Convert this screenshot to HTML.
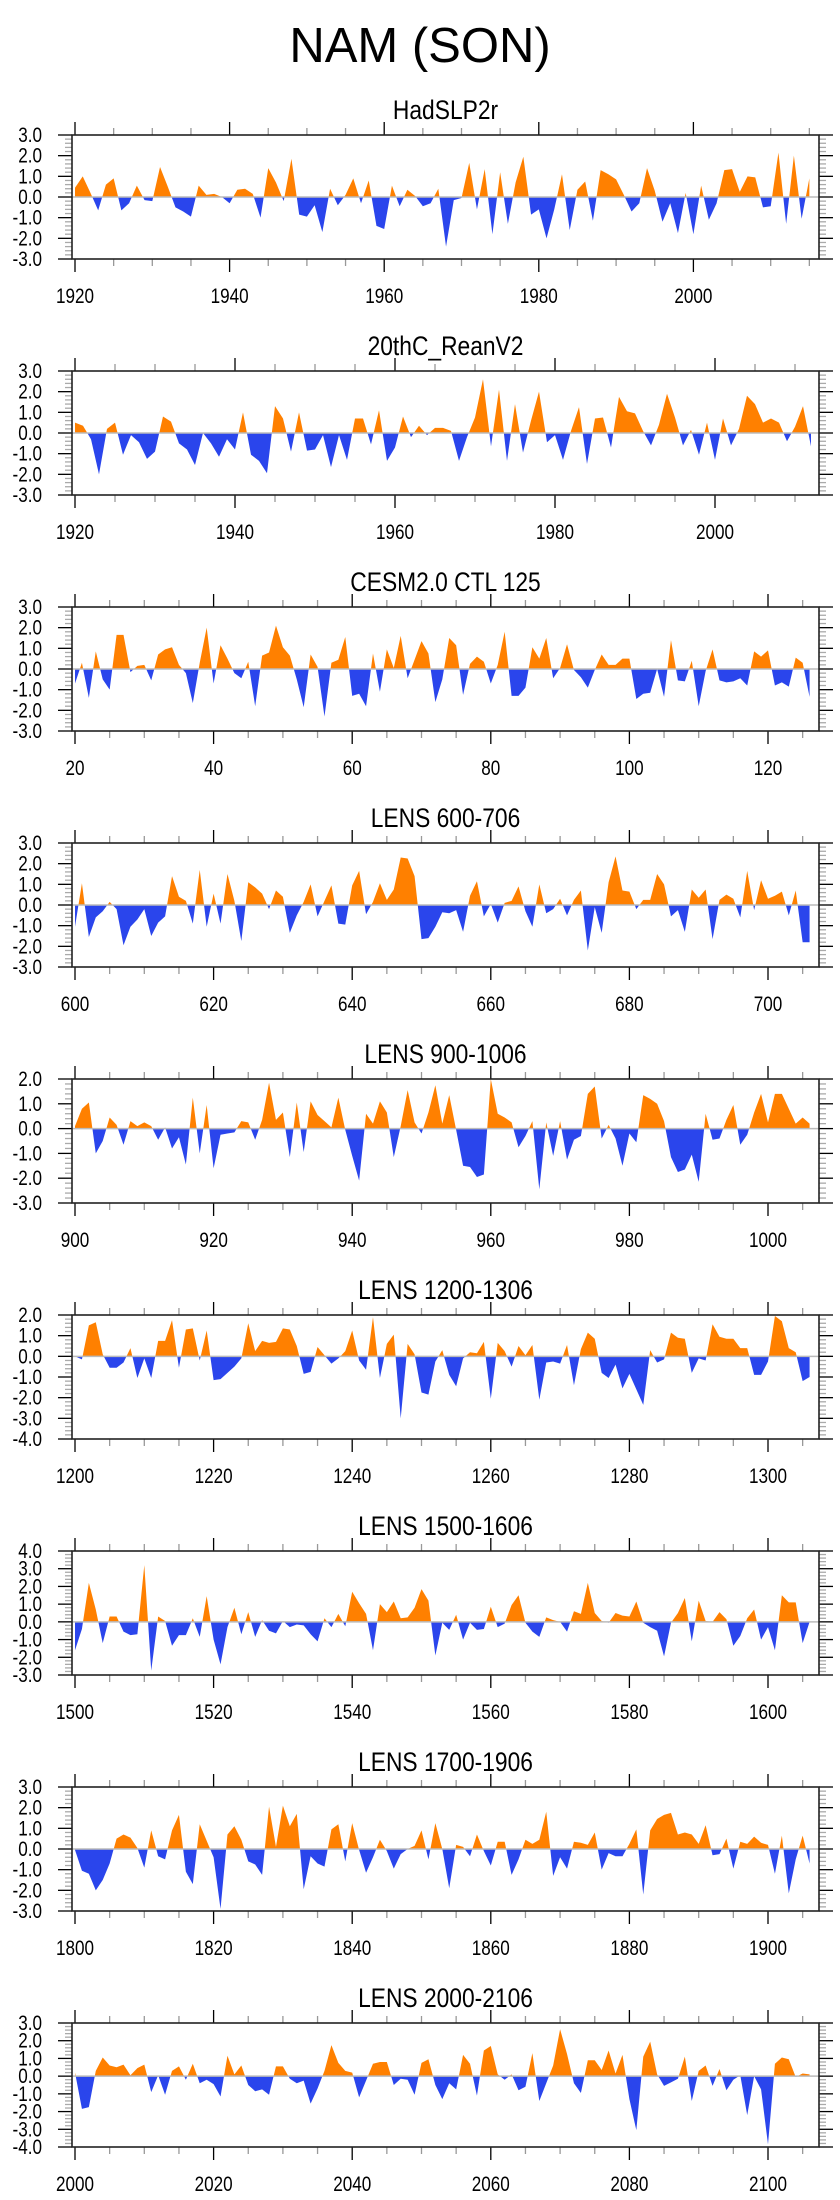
<!DOCTYPE html>
<html><head><meta charset="utf-8"><style>
html,body{margin:0;padding:0;background:#fff;}
svg{display:block;font-family:"Liberation Sans",Arial,sans-serif;}
</style></head><body>
<svg id="fig" width="840" height="2200" viewBox="0 0 840 2200">
<text x="420" y="62" text-anchor="middle" font-size="49">NAM (SON)</text>
</svg>
<script>
const titles = ["HadSLP2r","20thC_ReanV2","CESM2.0 CTL 125","LENS 600-706","LENS 900-1006","LENS 1200-1306","LENS 1500-1606","LENS 1700-1906","LENS 2000-2106"];
const startYears = [1920,1920,20,600,900,1200,1500,1800,2000];
const xTickLabels = [[1920,1940,1960,1980,2000],[1920,1940,1960,1980,2000],[20,40,60,80,100,120],[600,620,640,660,680,700],[900,920,940,960,980,1000],[1200,1220,1240,1260,1280,1300],[1500,1520,1540,1560,1580,1600],[1800,1820,1840,1860,1880,1900],[2000,2020,2040,2060,2080,2100]];
const yMins = [-3,-3,-3,-3,-3,-4,-3,-3,-4];
const yMaxs = [3,3,3,3,2,2,4,3,3];
const s1 = [0.45,1.0,0.2,-0.65,0.6,0.9,-0.65,-0.3,0.55,-0.15,-0.2,1.45,0.5,-0.5,-0.7,-0.95,0.55,0.1,0.15,0.0,-0.3,0.35,0.4,0.15,-1.0,1.4,0.7,-0.2,1.85,-0.85,-0.95,-0.4,-1.7,0.4,-0.4,0.1,0.9,-0.3,0.8,-1.4,-1.55,0.55,-0.45,0.35,0.05,-0.45,-0.3,0.4,-2.4,-0.15,-0.05,1.65,-0.6,1.35,-1.8,1.2,-1.3,0.7,1.95,-0.85,-0.6,-2.0,-0.6,1.1,-1.6,0.35,0.75,-1.15,1.3,1.1,0.85,0.1,-0.7,-0.3,1.4,0.3,-1.2,-0.3,-1.75,0.2,-1.8,0.55,-1.1,-0.3,1.3,1.35,0.25,1.0,0.95,-0.5,-0.45,2.15,-1.3,2.0,-1.05,0.9];
const s2 = [0.5,0.35,-0.3,-2.0,0.2,0.5,-1.05,-0.1,-0.45,-1.25,-0.9,0.8,0.55,-0.5,-0.8,-1.55,0,-0.5,-1.15,-0.3,-0.8,1.0,-1.05,-1.35,-1.95,1.3,0.7,-0.9,1.0,-0.85,-0.8,-0.1,-1.65,-0.1,-1.3,0.7,0.7,-0.55,1.1,-1.35,-0.7,0.8,-0.2,0.35,-0.1,0.25,0.25,0.1,-1.35,-0.2,0.75,2.6,-0.65,2.1,-1.35,1.4,-0.95,0.6,2.0,-0.45,-0.1,-1.3,0.1,1.25,-1.5,0.7,0.75,-0.7,1.75,1.05,0.95,0.1,-0.6,0.4,1.9,0.75,-0.6,0.15,-1.05,0.5,-1.3,0.7,-0.6,0.2,1.8,1.4,0.5,0.7,0.5,-0.4,0.3,1.3,-0.65];
const s3 = [-0.7,0.3,-1.4,0.85,-0.5,-1.0,1.65,1.65,-0.15,0.15,0.2,-0.55,0.7,0.95,1.05,0.2,-0.2,-1.65,0.3,2.0,-0.7,1.15,0.5,-0.2,-0.45,0.35,-1.8,0.65,0.8,2.1,1.05,0.65,-0.5,-1.85,0.7,0.1,-2.3,0.3,0.45,1.55,-1.3,-1.2,-1.8,0.75,-1.1,0.95,0.05,1.6,-0.45,0.45,1.35,0.75,-1.6,-0.5,1.5,1.15,-1.25,0.25,0.6,0.35,-0.7,0.2,1.8,-1.3,-1.3,-0.9,1.05,0.5,1.5,-0.45,0.05,1.2,-0.05,-0.4,-0.9,-0.05,0.7,0.2,0.2,0.5,0.5,-1.45,-1.2,-1.15,0,-1.35,1.4,-0.55,-0.6,0.4,-1.8,-0.1,0.95,-0.55,-0.65,-0.6,-0.45,-0.8,0.85,0.6,0.9,-0.8,-0.65,-0.85,0.55,0.3,-1.35];
const s4 = [-1.05,1.05,-1.55,-0.6,-0.3,0.15,-0.2,-1.95,-1.05,-0.7,-0.2,-1.5,-0.85,-0.55,1.4,0.4,0.2,-0.9,1.7,-1.05,0.55,-0.9,1.5,0.2,-1.75,1.1,0.85,0.55,-0.2,0.7,0.4,-1.35,-0.5,0.15,1.0,-0.55,0.2,0.95,-0.9,-0.95,0.95,1.65,-0.45,0.15,1.05,0.25,0.75,2.3,2.25,1.4,-1.65,-1.6,-1.05,-0.35,-0.4,-0.25,-1.3,0.45,1.15,-0.55,0.05,-0.85,0.1,0.2,0.9,-0.3,-1.05,1.0,-0.4,-0.2,0.3,-0.5,0.25,0.7,-2.2,-0.1,-1.35,1.1,2.35,0.7,0.65,-0.2,0.25,0.25,1.5,1.0,-0.55,-0.25,-1.3,0.75,0.35,0.75,-1.65,0.25,0.5,0.3,-0.6,1.65,-0.25,1.2,0.3,0.45,0.65,-0.5,0.7,-1.8,-1.8];
const s5 = [0.1,0.8,1.05,-1.0,-0.5,0.45,0.15,-0.65,0.3,0.1,0.25,0.1,-0.45,0.05,-0.8,-0.35,-1.45,1.25,-1.0,0.95,-1.6,-0.25,-0.2,-0.15,0.3,0.25,-0.45,0.35,1.85,0.35,0.65,-1.15,1.05,-0.95,1.1,0.55,0.3,0.05,1.25,-0.05,-1.1,-2.1,0.6,0.2,1.1,0.65,-1.15,0.1,1.55,0.25,-0.2,0.65,1.75,0.2,1.35,-0.05,-1.5,-1.55,-1.95,-1.85,2.0,0.6,0.45,0.25,-0.75,-0.3,0.3,-2.45,0.25,-1.1,0.3,-1.25,-0.45,-0.3,1.4,1.7,-0.4,0.15,-0.4,-1.5,-0.2,-0.55,1.35,1.2,1.0,0.3,-1.15,-1.75,-1.65,-1.05,-2.15,0.6,-0.45,-0.4,0.35,0.95,-0.65,-0.25,0.65,1.4,0.25,1.4,1.4,0.8,0.2,0.45,0.2];
const s6 = [0,-0.15,1.5,1.65,0.1,-0.55,-0.55,-0.3,0.4,-1.05,-0.1,-1.05,0.75,0.75,1.75,-0.55,1.3,1.35,-0.2,1.25,-1.15,-1.1,-0.8,-0.5,-0.1,1.6,0.25,0.75,0.65,0.7,1.35,1.3,0.5,-0.85,-0.75,0.45,0.05,-0.35,-0.1,0.25,1.25,-0.2,-0.65,1.9,-1.05,0.6,1.05,-3.0,0.6,0.1,-1.75,-1.85,-0.25,0.3,-0.9,-1.45,-0.1,0.2,0.15,0.7,-2.05,0.65,0.25,-0.5,0.5,0.05,0.55,-2.1,-0.3,-0.25,-0.35,0.55,-1.4,0.35,1.15,0.85,-0.8,-1.05,-0.4,-1.55,-0.85,-1.6,-2.35,0.3,-0.3,-0.15,1.15,0.9,0.85,-0.8,-0.1,-0.2,1.55,0.95,0.85,0.85,0.4,0.4,-0.9,-0.9,-0.25,1.95,1.7,0.4,0.2,-1.2,-1.0];
const s7 = [-1.6,-0.4,2.2,0.7,-1.2,0.3,0.3,-0.55,-0.75,-0.7,3.2,-2.75,0.3,0.05,-1.35,-0.75,-0.75,0.2,-0.85,1.45,-1.0,-2.4,-0.3,0.8,-0.7,0.55,-0.85,0.1,-0.5,-0.65,0.05,-0.3,-0.15,-0.2,-0.7,-1.1,0.2,-0.3,0.45,-0.25,1.7,1.05,0.45,-1.6,1.0,0.55,1.15,0.2,0.25,0.8,1.85,1.2,-1.9,-0.05,-0.45,0.4,-1.0,-0.05,-0.45,-0.4,0.85,-0.3,-0.1,0.95,1.5,-0.05,-0.55,-0.85,0.25,0.1,0.0,-0.55,0.6,0.45,2.2,0.5,0.05,-0.05,0.5,0.35,0.3,1.15,-0.05,-0.3,-0.5,-1.95,-0.05,0.5,1.35,-1.1,1.2,0.05,0.0,0.55,0.15,-1.35,-0.8,0.2,0.7,-1.0,-0.3,-1.6,1.5,1.1,1.1,-1.2,0.0];
const s8 = [-0.05,-1.05,-1.2,-2.0,-1.5,-0.7,0.5,0.7,0.55,0.05,-0.9,0.9,-0.35,-0.5,0.9,1.65,-1.1,-1.7,1.2,0.4,-0.4,-2.9,0.7,1.1,0.45,-0.6,-0.75,-1.25,2.05,0.1,2.1,1.1,1.7,-1.95,-0.35,-0.7,-0.85,0.95,1.2,-0.6,1.25,-0.05,-1.15,-0.4,0.45,-0.1,-0.95,-0.25,0.0,0.15,0.9,-0.5,1.25,0.0,-1.9,0.2,0.1,-0.35,0.7,-0.1,-0.8,0.35,0.35,-1.25,-0.5,0.45,0.25,0.45,1.8,-1.3,-0.4,-0.95,0.35,0.3,0.2,0.8,-1.0,-0.2,-0.35,-0.35,0.25,0.95,-2.2,0.9,1.45,1.65,1.75,0.7,0.8,0.7,0.25,1.15,-0.3,-0.25,0.5,-0.95,0.35,0.25,0.6,0.3,0.2,-1.2,0.65,-2.15,-0.5,0.65,-0.7];
const s9 = [0.2,-1.85,-1.75,0.3,1.05,0.6,0.5,0.65,0.05,0.45,0.65,-0.9,0.05,-1.05,0.3,0.55,-0.2,0.7,-0.4,-0.2,-0.45,-1.15,1.15,0.1,0.6,-0.5,-0.85,-0.75,-1.05,0.55,0.55,-0.15,-0.4,-0.25,-1.55,-0.7,0.3,1.75,0.75,0.3,0.2,-1.2,-0.25,0.7,0.8,0.8,-0.5,-0.15,-0.2,-1.05,0.75,0.95,-0.5,-1.3,-0.4,-0.75,1.2,0.7,-1.1,1.45,1.7,0.1,-0.2,0.1,-0.8,-0.6,1.3,-1.4,-0.4,0.6,2.65,1.25,-0.4,-0.95,0.9,0.9,0.35,1.45,0.15,1.2,-1.3,-3.05,1.1,1.95,0.1,-0.55,-0.35,-0.15,1.1,-1.4,0.3,0.6,-0.55,0.4,-0.8,-0.2,0.05,-2.2,0.0,-0.75,-3.85,0.7,1.05,0.95,-0.05,0.15,0.1];
const series = [s1,s2,s3,s4,s5,s6,s7,s8,s9];
const pxPerYear = [7.73,8.0,6.93,6.93,6.93,6.93,6.93,6.93,6.93];

const NS = "http://www.w3.org/2000/svg";
const svg = document.getElementById("fig");
const BOX_L = 72, BOX_R = 819, BOX_H = 124, TOP0 = 135, STEP = 236;
function mk(tag, attrs, parent){const e=document.createElementNS(NS,tag);for(const k in attrs)e.setAttribute(k,attrs[k]);parent.appendChild(e);return e;}

for (let p = 0; p < series.length; p++) {
  const top = TOP0 + STEP * p, bot = top + BOX_H;
  const xmin = startYears[p] - 3 / pxPerYear[p];
  const xmax = xmin + (BOX_R - BOX_L) / pxPerYear[p];
  const ymin = yMins[p], ymax = yMaxs[p];
  const xs = v => BOX_L + (v - xmin) / (xmax - xmin) * (BOX_R - BOX_L);
  const ys = v => bot - (v - ymin) / (ymax - ymin) * BOX_H;
  const g = mk("g", {}, svg);
  
  
  const t = mk("text", {transform: "translate(" + ((BOX_L + BOX_R) / 2) + "," + (top - 16) + ") scale(0.95,1.1)", "text-anchor": "middle", "font-size": 24}, g);
  t.textContent = titles[p];
  
  

  const d = series[p];
  const pts = [];
  for (let i = 0; i < d.length; i++) {
    const yr = startYears[p] + i;
    if (i > 0) {
      const a = d[i - 1], b = d[i];
      if ((a > 0 && b < 0) || (a < 0 && b > 0)) {
        pts.push([yr - 1 + a / (a - b), 0]);
      }
    }
    pts.push([yr, d[i]]);
  }
  const y0 = ys(0);
  function poly(sign){
    let s = "M" + xs(pts[0][0]).toFixed(2) + "," + y0.toFixed(2);
    for (const q of pts) {
      const v = sign > 0 ? Math.max(q[1], 0) : Math.min(q[1], 0);
      s += "L" + xs(q[0]).toFixed(2) + "," + ys(v).toFixed(2);
    }
    s += "L" + xs(pts[pts.length - 1][0]).toFixed(2) + "," + y0.toFixed(2) + "Z";
    return s;
  }
  const pos = mk("path", {d: poly(1), fill: "#ff8000"}, g);
  
  
  const neg = mk("path", {d: poly(-1), fill: "#2a45ec"}, g);
  
  
  const zl = mk("line", {x1: BOX_L, x2: BOX_R, y1: y0, y2: y0, stroke: "#bbbbbb", "stroke-width": 1.5}, g);
  
  

  const x0 = Math.ceil(xmin / 5) * 5;
  for (let v = x0; v <= xmax; v += 5) {
    const x = xs(v), major = (v % 20 === 0);
    const len = major ? 13 : 7, col = major ? "#000" : "#999";
    mk("line", {x1: x, x2: x, y1: top, y2: top - len, stroke: col, "stroke-width": 1.3}, g);
    mk("line", {x1: x, x2: x, y1: bot, y2: bot + len, stroke: col, "stroke-width": 1.3}, g);
  }
  for (const v of xTickLabels[p]) {
    const lb = mk("text", {transform: "translate(" + xs(v).toFixed(2) + "," + (bot + 44) + ") scale(0.9,1.1)", "text-anchor": "middle", "font-size": 19}, g);
    lb.textContent = String(v);
    
    
  }
  for (let k = Math.round(ymin * 5); k <= Math.round(ymax * 5); k++) {
    const v = k / 5, y = ys(v), major = (k % 5 === 0);
    const len = major ? 14 : 7, col = major ? "#000" : "#aaa";
    mk("line", {x1: BOX_L, x2: BOX_L - len, y1: y, y2: y, stroke: col, "stroke-width": 1.3}, g);
    mk("line", {x1: BOX_R, x2: BOX_R + len, y1: y, y2: y, stroke: col, "stroke-width": 1.3}, g);
    if (major) {
      const lb = mk("text", {transform: "translate(42," + (y + 7).toFixed(2) + ") scale(0.9,1.1)", "text-anchor": "end", "font-size": 19}, g);
      lb.textContent = v.toFixed(1);
      
      
    }
  }
  const box = mk("rect", {x: BOX_L, y: top, width: BOX_R - BOX_L, height: BOX_H, fill: "none", stroke: "#222", "stroke-width": 1.6}, g);
  
  
}
</script>
</body></html>
